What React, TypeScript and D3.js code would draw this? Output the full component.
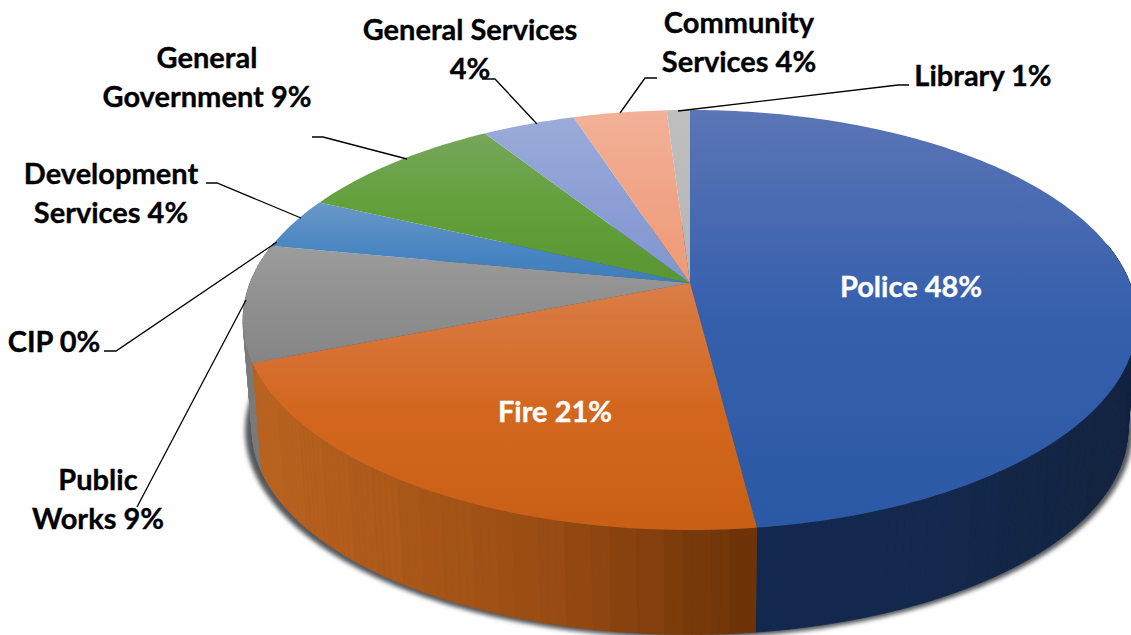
import * as d3 from "d3";

// Budget shares by department, clockwise from twelve o'clock.
const departments = ["Police", "Fire", "Public Works", "CIP", "Development Services", "General Government", "General Services", "Community Services", "Library"];
const shares = [48, 21, 9, 0, 4, 9, 4, 4, 1];

const topColors = [
  ["#5b75b5", "#355fad", "#2b59a6"],
  ["#da7d48", "#d3671f", "#c95f14"],
  ["#9c9c9c", "#8f8f8f", "#858585"],
  ["#a5a5a5", "#a5a5a5", "#a5a5a5"],
  ["#6a98c9", "#4d88c2", "#3b7dbb"],
  ["#77a65c", "#61a03a", "#5a9632"],
  ["#9babd9", "#8c9fd5", "#7f96cf"],
  ["#f2b198", "#f0a486", "#ee9a74"],
  ["#bfbfbf", "#bababa", "#b5b5b5"],
];
const wallColors = [
  ["#12284f", "#13284c", "#13233f"],
  ["#bb6420", "#9a4c12", "#6b3207"],
  ["#7b7b7b", "#70757a", "#666a6e"],
  ["#777", "#777", "#777"],
  ["#2f5f8f", "#2f5f8f", "#2f5f8f"],
  ["#3f6b24", "#3f6b24", "#3f6b24"],
  ["#5f6f99", "#5f6f99", "#5f6f99"],
  ["#a87050", "#a87050", "#a87050"],
  ["#808080", "#808080", "#808080"],
];

type Label = { lines: string[]; x: number; y: number; color: string };
const labels: Label[] = [
  { lines: ["Police 48%"], x: 911, y: 297, color: "#fff" },
  { lines: ["Fire 21%"], x: 555, y: 422, color: "#fff" },
  { lines: ["Public", "Works 9%"], x: 98, y: 490, color: "#000" },
  { lines: ["CIP 0%"], x: 54, y: 352, color: "#000" },
  { lines: ["Development", "Services 4%"], x: 111, y: 184, color: "#000" },
  { lines: ["General", "Government 9%"], x: 207, y: 68, color: "#000" },
  { lines: ["General Services", "4%"], x: 470, y: 40, color: "#000" },
  { lines: ["Community", "Services 4%"], x: 739, y: 33, color: "#000" },
  { lines: ["Library 1%"], x: 983, y: 86, color: "#000" },
];
const LINE_HEIGHT = 39;

const leaders: [number, number][][] = [
  [[246, 300], [137, 507]],
  [[277, 242], [116, 351], [104, 351]],
  [[301, 218], [217, 183], [206, 183]],
  [[407, 159], [323, 137], [312, 137]],
  [[537, 124], [495, 79], [482, 79]],
  [[620, 113], [645, 78], [657, 78]],
  [[678, 111], [898, 85], [909, 85]],
];

// Perspective view of a tilted disc: near points are drawn larger than far ones.
type Plane = { cx: number; cy: number; a: number; b: number };
const TILT = 0.176;
const topPlane: Plane = { cx: 690, cy: 283, a: 440, b: 203.5 };
const basePlane: Plane = { cx: 690, cy: 393, a: 431, b: 199 };
const project = (angle: number, p: Plane): [number, number] => {
  const u = Math.sin(angle);
  const v = -Math.cos(angle);
  const w = 1 - TILT * v;
  return [p.cx + (p.a * u) / w, p.cy + (p.b * v) / w];
};
const STEP = Math.PI / 180;
const sweep = (from: number, to: number): number[] => {
  const n = Math.max(1, Math.ceil((to - from) / STEP));
  return d3.range(n + 1).map((i) => from + ((to - from) * i) / n);
};

const line = d3.line();
const arcs = d3
  .pie<number>()
  .sort(null)
  .value((d) => d)
  .startAngle(0)
  .endAngle(2 * Math.PI)(shares);

// The side wall is shaded in wide vertical bands, so nearby quads share one colour.
const BAND = 24;
const BACK_LIMIT = -0.2;
type Quad = { d: string; fill: string; depth: number };
const quads: Quad[] = arcs.flatMap((arc, i) => {
  if (arc.endAngle <= arc.startAngle) return [];
  const steps = sweep(arc.startAngle, arc.endAngle);
  const xs = steps.map((s) => project(s, topPlane)[0]);
  const [x0, x1] = d3.extent(xs) as [number, number];
  const ramp = d3
    .scaleLinear<string>()
    .domain([x0, x0 + 0.58 * (x1 - x0), x1])
    .range(wallColors[i])
    .clamp(true);
  return steps
    .slice(0, -1)
    .map((s, k) => {
      const next = steps[k + 1];
      const pts = [project(s, topPlane), project(next, topPlane), project(next, basePlane), project(s, basePlane)];
      const mid = (pts[0][0] + pts[1][0]) / 2;
      return {
        d: line(pts) + "Z",
        fill: ramp(Math.round(mid / BAND) * BAND),
        depth: -Math.cos((s + next) / 2),
      };
    })
    .filter((q) => q.depth > BACK_LIMIT);
});
quads.sort((p, q) => p.depth - q.depth);

const slicePath = (start: number, end: number): string =>
  line([[topPlane.cx, topPlane.cy], ...sweep(start, end).map((s) => project(s, topPlane))]) + "Z";

const shadowPlane: Plane = { cx: 689, cy: 394, a: 437, b: 201 };
const shadowPath = line(sweep(0, 2 * Math.PI).map((s) => project(s, shadowPlane))) + "Z";

export default function App() {
  return (
    <svg
      width={1131}
      height={635}
      viewBox="0 0 1131 635"
      style={{ position: "absolute", left: 0, top: 0, display: "block", background: "#fff" }}
      fontFamily="Lato, 'Open Sans', sans-serif"
      fontWeight={700}
      fontSize={29}
    >
      <defs>
        <filter id="pie-shadow" x="-5%" y="-5%" width="110%" height="110%">
          <feGaussianBlur stdDeviation={2.2} />
        </filter>
        {topColors.map((c, i) => (
          <linearGradient key={i} id={`face-${i}`} x1="0" y1="0" x2="0" y2="1">
            <stop offset="0" stopColor={c[0]} />
            <stop offset="0.5" stopColor={c[1]} />
            <stop offset="1" stopColor={c[2]} />
          </linearGradient>
        ))}
      </defs>

      <path d={shadowPath} fill="#55585c" filter="url(#pie-shadow)" />

      <g>
        {quads.map((q, i) => (
          <path key={i} d={q.d} fill={q.fill} stroke={q.fill} strokeWidth={0.7} />
        ))}
      </g>

      <g>
        {arcs.map((arc, i) =>
          arc.endAngle > arc.startAngle ? (
            <path key={departments[i]} d={slicePath(arc.startAngle, arc.endAngle)} fill={`url(#face-${i})`} />
          ) : null
        )}
      </g>

      <g fill="none" stroke="#000" strokeWidth={1.3}>
        {leaders.map((pts, i) => (
          <path key={i} d={line(pts) ?? ""} />
        ))}
      </g>

      <g textAnchor="middle">
        {labels.map((l) =>
          l.lines.map((text, k) => (
            <text key={text + l.x} x={l.x} y={l.y + k * LINE_HEIGHT} fill={l.color} stroke={l.color} strokeWidth={0.35}>
              {text}
            </text>
          ))
        )}
      </g>
    </svg>
  );
}
